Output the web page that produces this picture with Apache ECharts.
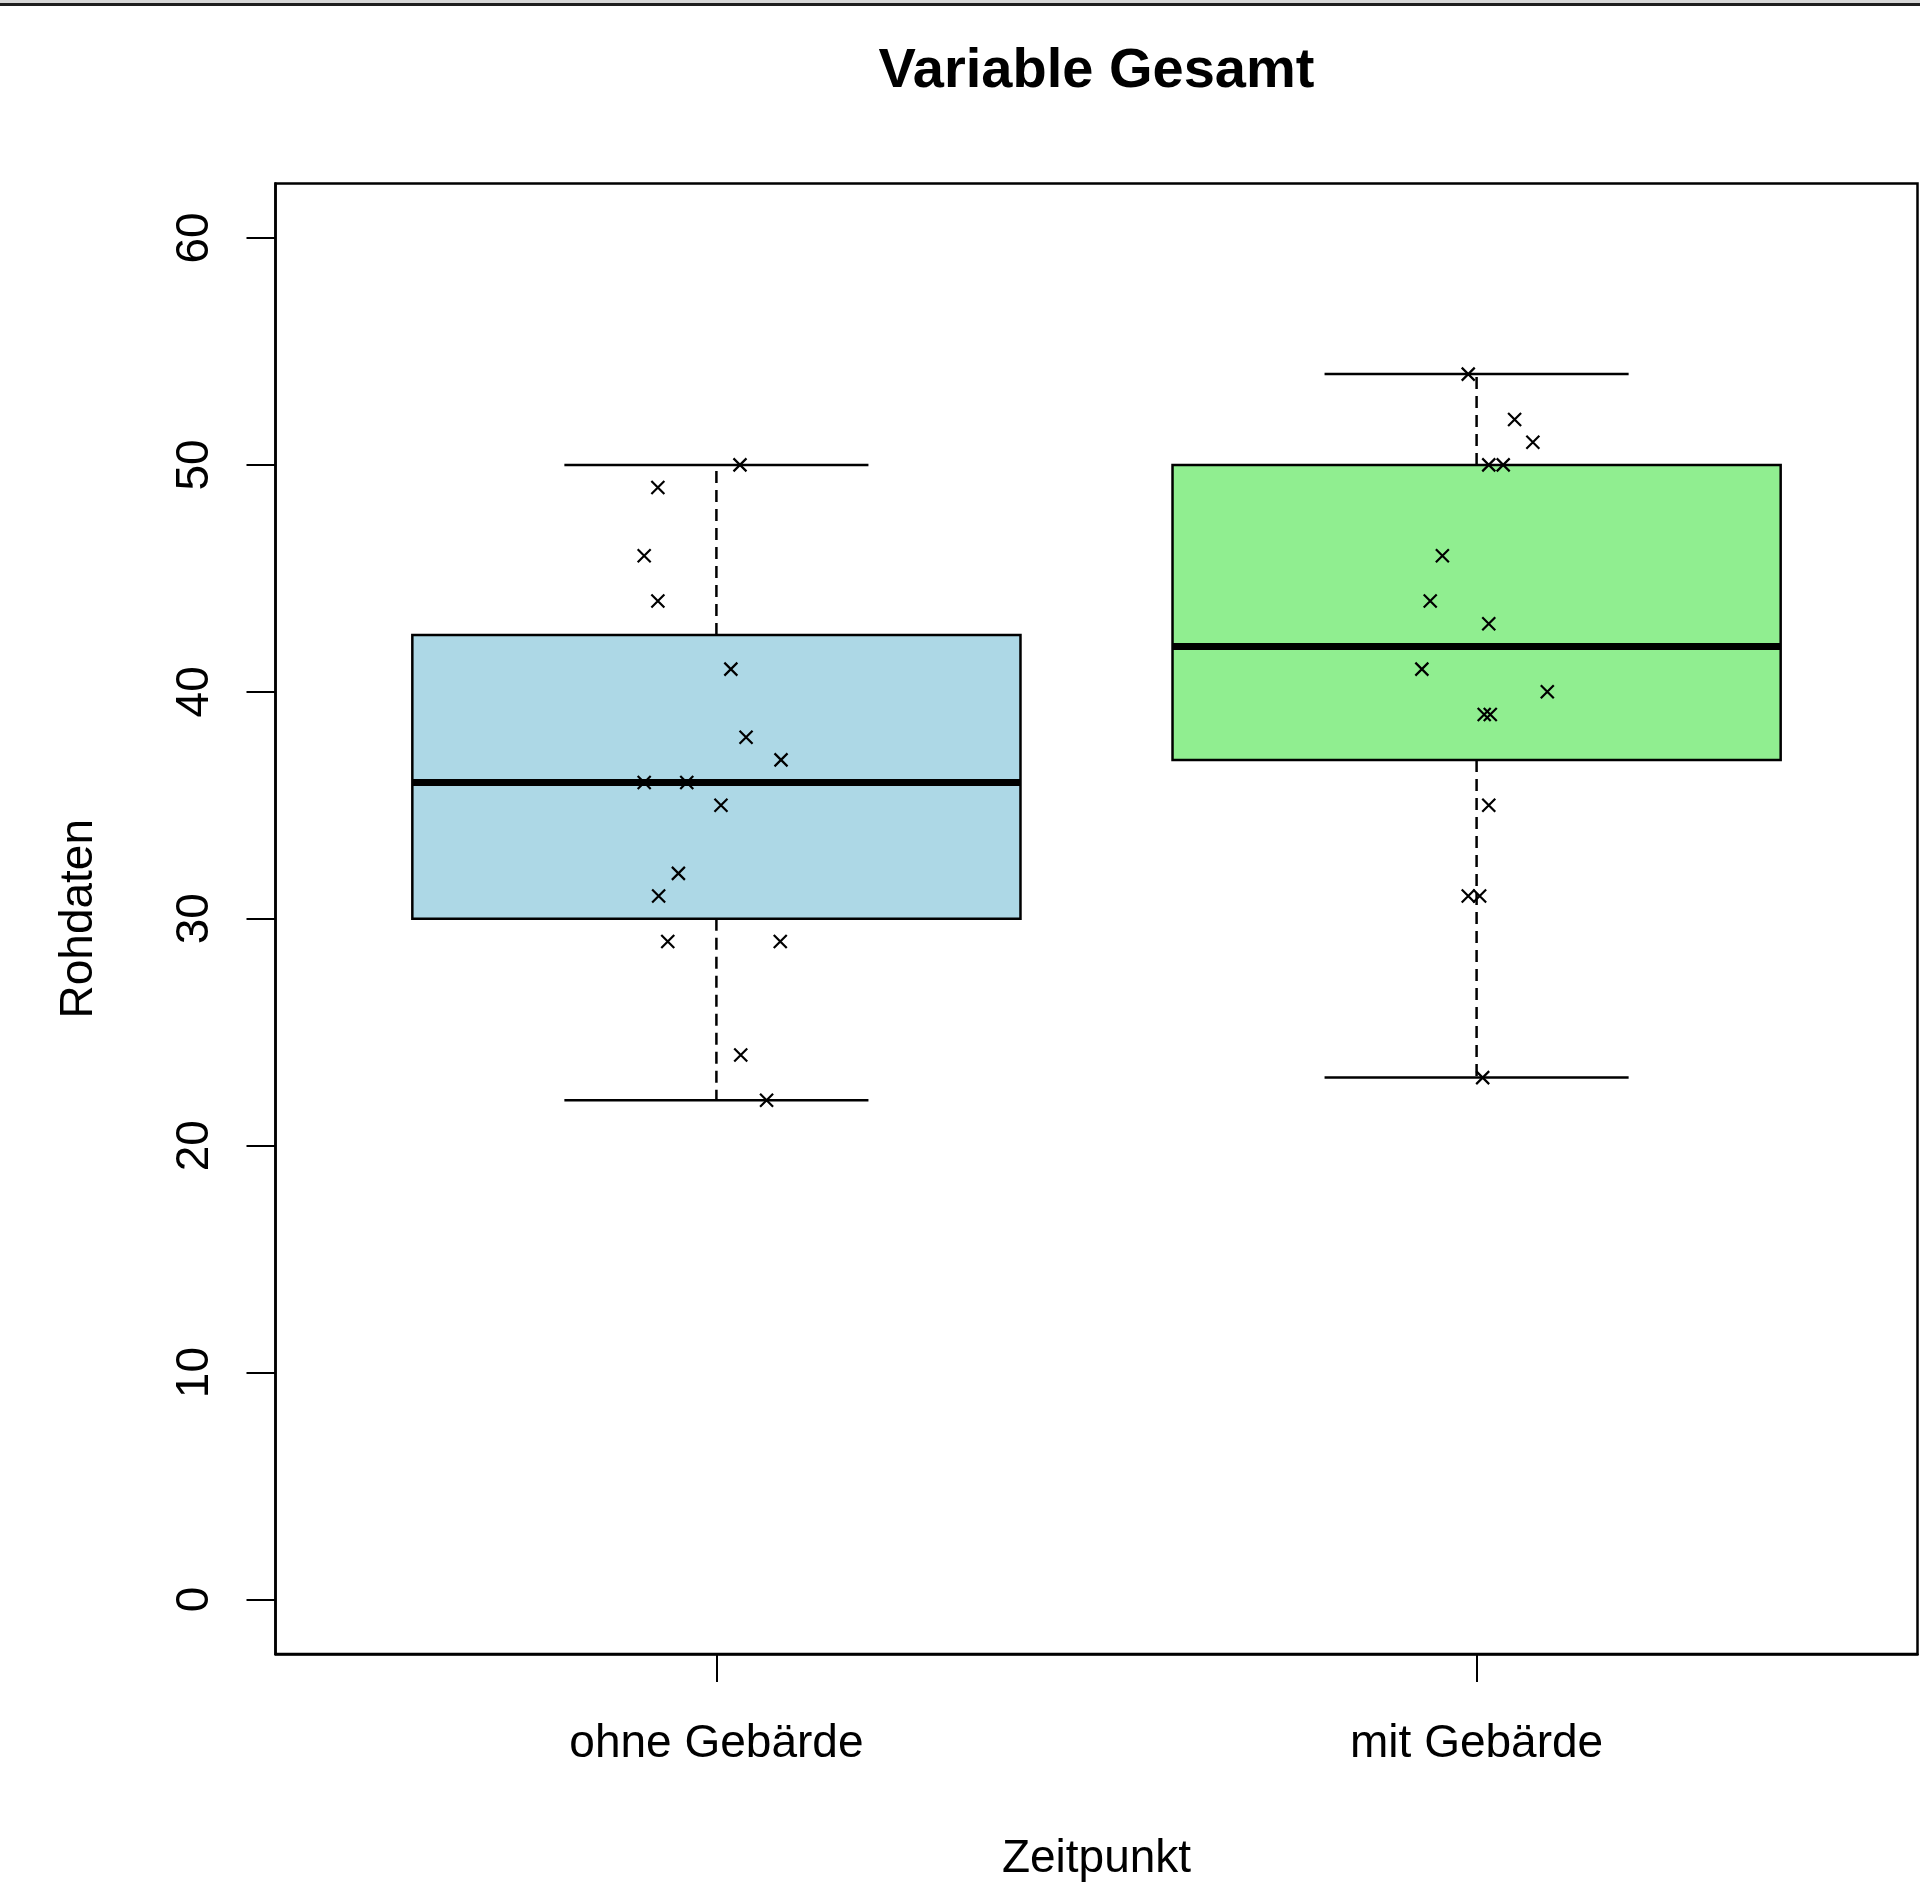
<!DOCTYPE html>
<html>
<head>
<meta charset="utf-8">
<script src="https://cdn.jsdelivr.net/npm/echarts@6/dist/echarts.min.js"></script>
<style>
html,body{margin:0;padding:0;background:#fff;}
#chart{width:1920px;height:1882px;}
</style>
</head>
<body>
<div id="chart"></div>
<script>
// ---- data ----
const categories = ['ohne Gebärde', 'mit Gebärde'];
const yTicks = [0, 10, 20, 30, 40, 50, 60];
// [min, Q1, median, Q3, max]
const ohneStats = [22, 30, 36, 42.5, 50];
const mitStats = [23, 37, 42, 50, 54];
// raw points (value) and their horizontal jitter offsets
const ohneValues = [50, 49, 46, 44, 41, 38, 37, 36, 36, 35, 32, 31, 29, 29, 24, 22];
const ohneJitter = [0.031, -0.077, -0.095, -0.077, 0.019, 0.039, 0.085, -0.095, -0.039, 0.006, -0.050, -0.076, -0.064, 0.084, 0.032, 0.066];
const mitValues = [54, 52, 51, 50, 50, 46, 44, 43, 41, 40, 39, 39, 35, 31, 31, 23];
const mitJitter = [-0.011, 0.050, 0.074, 0.016, 0.035, -0.045, -0.061, 0.016, -0.072, 0.093, 0.010, 0.018, 0.016, -0.011, 0.004, 0.008];

const boxColors = ['#ADD8E6', '#90EE90'];
const FONT = '"Liberation Sans", Arial, Helvetica, sans-serif';

const boxData = [ohneStats, mitStats].map((s, i) => [i + 1].concat(s));
const pointData = [];
ohneValues.forEach((v, k) => pointData.push([1 + ohneJitter[k], v]));
mitValues.forEach((v, k) => pointData.push([2 + mitJitter[k], v]));

const chart = echarts.init(document.getElementById('chart'), null, {renderer: 'canvas'});

function renderBox(params, api) {
  const x = api.value(0), mn = api.value(1), q1 = api.value(2), md = api.value(3), q3 = api.value(4), mx = api.value(5);
  const hw = 0.4, cw = 0.2;
  const p = (a, b) => api.coord([a, b]);
  const tl = p(x - hw, q3), br = p(x + hw, q1);
  const c = p(x, 0)[0];
  const yMax = p(x, mx)[1], yQ3 = p(x, q3)[1], yQ1 = p(x, q1)[1], yMin = p(x, mn)[1], yMd = p(x, md)[1];
  const capL = p(x - cw, 0)[0], capR = p(x + cw, 0)[0];
  const dash = {stroke: '#000', lineWidth: 2.5, lineDash: [12, 7]};
  const solid = {stroke: '#000', lineWidth: 2.5};
  return {
    type: 'group',
    children: [
      {type: 'line', shape: {x1: c, y1: yQ3, x2: c, y2: yMax}, style: dash},
      {type: 'line', shape: {x1: c, y1: yQ1, x2: c, y2: yMin}, style: dash},
      {type: 'line', shape: {x1: capL, y1: yMax, x2: capR, y2: yMax}, style: solid},
      {type: 'line', shape: {x1: capL, y1: yMin, x2: capR, y2: yMin}, style: solid},
      {type: 'rect', shape: {x: tl[0], y: tl[1], width: br[0] - tl[0], height: br[1] - tl[1]},
        style: {fill: boxColors[params.dataIndex], stroke: '#000', lineWidth: 2.5}},
      {type: 'line', shape: {x1: tl[0], y1: yMd, x2: br[0], y2: yMd}, style: {stroke: '#000', lineWidth: 7}}
    ]
  };
}

const option = {
  animation: false,
  backgroundColor: '#fff',
  textStyle: {fontFamily: FONT},
  grid: {left: 275.5, top: 183.5, width: 1642, height: 1470.5, show: true,
    borderColor: '#000', borderWidth: 2.5, backgroundColor: 'transparent',
    containLabel: false, outerBoundsMode: 'none'},
  graphic: [
    {type: 'rect', left: 0, top: 0, shape: {x: 0, y: 0, width: 1920, height: 3}, style: {fill: '#d6d6d6'}},
    {type: 'rect', left: 0, top: 3, shape: {x: 0, y: 0, width: 1920, height: 3}, style: {fill: '#1e1e1e'}},
    {type: 'text', x: 1096.5, y: 72,
      style: {text: 'Variable Gesamt', font: 'bold 56px ' + FONT, fill: '#000',
        align: 'center', verticalAlign: 'middle', textAlign: 'center', textVerticalAlign: 'middle'}}
  ],
  xAxis: {
    type: 'value', min: 0.42, max: 2.58,
    name: 'Zeitpunkt', nameLocation: 'middle', nameGap: 182,
    nameTextStyle: {fontSize: 46, color: '#000', fontFamily: FONT},
    axisLine: {show: true, onZero: false, lineStyle: {color: '#000', width: 2.5}},
    axisTick: {show: true, inside: false, length: 28, customValues: [1, 2], lineStyle: {color: '#000', width: 2}},
    axisLabel: {show: true, customValues: [1, 2], margin: 67, fontSize: 46, color: '#000', fontFamily: FONT,
      formatter: v => categories[Math.round(v) - 1]},
    splitLine: {show: false}
  },
  yAxis: {
    type: 'value', min: -2.4, max: 62.4,
    name: 'Rohdaten', nameLocation: 'middle', nameGap: 173, nameRotate: 90,
    nameTextStyle: {fontSize: 46, color: '#000', fontFamily: FONT},
    axisLine: {show: true, onZero: false, lineStyle: {color: '#000', width: 2.5}},
    axisTick: {show: true, inside: false, length: 29, customValues: yTicks, lineStyle: {color: '#000', width: 2}},
    axisLabel: {show: true, customValues: yTicks, rotate: 90, margin: 57, fontSize: 46, color: '#000', fontFamily: FONT},
    splitLine: {show: false}
  },
  series: [
    {type: 'custom', renderItem: renderBox, data: boxData, encode: {x: 0, y: [1, 2, 3, 4, 5]}, z: 2, silent: true},
    {type: 'scatter', data: pointData, z: 3, silent: true,
      symbol: 'path://M0,0L10,10M10,0L0,10', symbolSize: 13,
      itemStyle: {color: 'rgba(0,0,0,0)', borderColor: '#000', borderWidth: 2.2, opacity: 1},
      emphasis: {disabled: true}}
  ]
};
chart.setOption(option);
</script>
</body>
</html>
